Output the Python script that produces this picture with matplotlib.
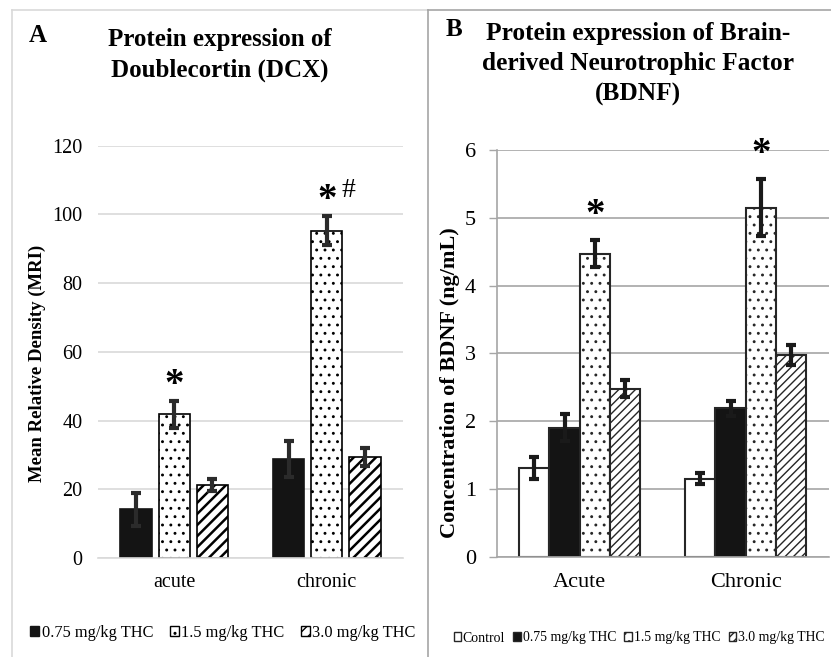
import numpy as np
import matplotlib
matplotlib.use("Agg")
import matplotlib.pyplot as plt
from matplotlib.lines import Line2D
from matplotlib.patches import Patch

plt.rcParams['font.family'] = 'Liberation Serif'

# ---- panel A data (DCX) ----
groups_a = ["acute", "chronic"]
series_a = ["0.75 mg/kg THC", "1.5 mg/kg THC", "3.0 mg/kg THC"]
dcx_mean = [[14.2, 28.8],    # 0.75
            [41.8, 95.3],    # 1.5
            [21.2, 29.3]]    # 3.0
dcx_err = [[4.8, 5.2],
           [4.0, 4.3],
           [1.8, 2.6]]
dcx_marks = [["", ""], ["*", "*"], ["", ""]]

# ---- panel B data (BDNF) ----
groups_b = ["Acute", "Chronic"]
series_b = ["Control", "0.75 mg/kg THC", "1.5 mg/kg THC", "3.0 mg/kg THC"]
bdnf_mean = [[1.31, 1.15],
             [1.90, 2.19],
             [4.47, 5.15],
             [2.48, 2.98]]
bdnf_err = [[0.16, 0.08],
            [0.20, 0.11],
            [0.20, 0.42],
            [0.13, 0.15]]
bdnf_marks = [["", ""], ["", ""], ["*", "*"], ["", ""]]

W, H = 831, 657
fig = plt.figure(figsize=(W / 100, H / 100), dpi=100)


def fx(px):
    return px / W


def fy(py):
    return 1 - py / H


def set_hatch_lw(patch, lw):
    if hasattr(patch, "set_hatch_linewidth"):
        patch.set_hatch_linewidth(lw)


# panel frames
fig.add_artist(Line2D([fx(12), fx(12)], [0, fy(10)], color="#d9d9d9", lw=1.2))
fig.add_artist(Line2D([fx(12), fx(428)], [fy(10), fy(10)], color="#d9d9d9", lw=1.2))
fig.add_artist(Line2D([fx(428), fx(428)], [0, fy(10)], color="#a6a6a6", lw=1.2))
fig.add_artist(Line2D([fx(428), 1], [fy(10), fy(10)], color="#a6a6a6", lw=1.2))

# ================= panel A =================
axA = fig.add_axes([fx(98), fy(558), fx(403) - fx(98), fy(145.7) - fy(558)])
xa = np.arange(len(groups_a))
wa = 0.205
offs_a = [-0.25, 0.0, 0.25]
styles_a = [dict(color="#141414", edgecolor="#141414", hatch=None, hlw=1.0),
            dict(color="white", edgecolor="black", hatch="..", hlw=0.9),
            dict(color="white", edgecolor="black", hatch="///", hlw=1.8)]
handles_a = []
for i, name in enumerate(series_a):
    st = styles_a[i]
    bars = axA.bar(xa + offs_a[i], dcx_mean[i], wa, color=st["color"],
                   edgecolor=st["edgecolor"], hatch=st["hatch"], linewidth=1.2,
                   zorder=2, label=name)
    for b in bars:
        set_hatch_lw(b, st["hlw"])
    axA.errorbar(xa + offs_a[i], dcx_mean[i], yerr=dcx_err[i], fmt="none",
                 ecolor="#2b2b2b", elinewidth=3, capsize=3.5, capthick=3, zorder=3)
    for j in range(len(groups_a)):
        if dcx_marks[i][j]:
            top = dcx_mean[i][j] + dcx_err[i][j]
            axA.text(xa[j] + offs_a[i], top + 4.5, dcx_marks[i][j], ha="center",
                     va="center", fontsize=28, fontweight="bold", zorder=4)
    handles_a.append(Patch(facecolor=st["color"], edgecolor=st["edgecolor"],
                           hatch=st["hatch"], linewidth=1.0))
# the '#' next to chronic 1.5 mg/kg
axA.text(xa[1] + offs_a[1] + 0.14, dcx_mean[1][1] + dcx_err[1][1] + 7.5, "#",
         ha="center", va="center", fontsize=20)

axA.set_xlim(-0.5, 1.5)
axA.set_ylim(0, 120)
axA.set_yticks(np.arange(0, 121, 20))
axA.set_xticks(xa)
axA.set_xticklabels(groups_a, fontsize=14.5)
axA.tick_params(axis="y", length=0, pad=11, labelsize=14.5)
axA.tick_params(axis="x", length=0, pad=11)
axA.grid(axis="y", color="#d9d9d9", lw=1.2, zorder=0)
axA.set_axisbelow(True)
for s in ["top", "right", "left"]:
    axA.spines[s].set_visible(False)
axA.spines["bottom"].set_color("#d9d9d9")
axA.spines["bottom"].set_linewidth(1.2)

fig.text(fx(37), fy(363), "Mean Relative Density (MRI)", rotation=90, ha="center",
         va="center", fontsize=13.5, fontweight="bold")
fig.text(fx(37.5), fy(35), "A", ha="center", va="center", fontsize=18, fontweight="bold")
fig.text(fx(220), fy(55), "Protein expression of\nDoublecortin (DCX)", ha="center",
         va="center", fontsize=18, fontweight="bold", linespacing=1.4)
fig.legend(handles_a, series_a, loc="center", bbox_to_anchor=(fx(223), fy(633)),
           ncol=3, frameon=False, fontsize=11.8, handlelength=0.55, handleheight=0.55,
           handletextpad=0.15, columnspacing=1.0, borderaxespad=0)

# ================= panel B =================
axB = fig.add_axes([fx(496.7), fy(556.7), fx(828.7) - fx(496.7), fy(150) - fy(556.7)])
xb = np.arange(len(groups_b))
wb = 0.182
offs_b = [-1.5 * wb, -0.5 * wb, 0.5 * wb, 1.5 * wb]
styles_b = [dict(color="white", edgecolor="#262626", hatch=None, hlw=1.0),
            dict(color="#141414", edgecolor="#262626", hatch=None, hlw=1.0),
            dict(color="white", edgecolor="#262626", hatch="..", hlw=0.9),
            dict(color="white", edgecolor="#262626", hatch="////", hlw=1.0)]
handles_b = []
for i, name in enumerate(series_b):
    st = styles_b[i]
    bars = axB.bar(xb + offs_b[i], bdnf_mean[i], wb, color=st["color"],
                   edgecolor=st["edgecolor"], hatch=st["hatch"], linewidth=1.5,
                   zorder=2, label=name)
    for b in bars:
        set_hatch_lw(b, st["hlw"])
    axB.errorbar(xb + offs_b[i], bdnf_mean[i], yerr=bdnf_err[i], fmt="none",
                 ecolor="#1a1a1a", elinewidth=3, capsize=3.5, capthick=3, zorder=3)
    for j in range(len(groups_b)):
        if bdnf_marks[i][j]:
            top = bdnf_mean[i][j] + bdnf_err[i][j]
            axB.text(xb[j] + offs_b[i], top + 0.37, bdnf_marks[i][j], ha="center",
                     va="center", fontsize=28, fontweight="bold", zorder=4)
    handles_b.append(Patch(facecolor=st["color"], edgecolor=st["edgecolor"],
                           hatch=st["hatch"], linewidth=1.0))

axB.set_xlim(-0.5, 1.5)
axB.set_ylim(0, 6)
axB.set_yticks(np.arange(0, 7, 1))
axB.set_xticks(xb)
axB.set_xticklabels(groups_b, fontsize=16)
axB.tick_params(axis="y", length=6, width=1, color="#a6a6a6", pad=9, labelsize=16)
axB.tick_params(axis="x", length=0, pad=12)
axB.grid(axis="y", color="#a6a6a6", lw=1.2, zorder=0)
axB.set_axisbelow(True)
for s in ["top", "right"]:
    axB.spines[s].set_visible(False)
for s in ["left", "bottom"]:
    axB.spines[s].set_color("#a6a6a6")
    axB.spines[s].set_linewidth(1.2)

fig.text(fx(450), fy(383), "Concentration of BDNF (ng/mL)", rotation=90, ha="center",
         va="center", fontsize=16, fontweight="bold")
fig.text(fx(453.5), fy(30), "B", ha="center", va="center", fontsize=18, fontweight="bold")
fig.text(fx(638), fy(64), "Protein expression of Brain-\nderived Neurotrophic Factor\n(BDNF)",
         ha="center", va="center", fontsize=18.3, fontweight="bold", linespacing=1.4)
fig.legend(handles_b, series_b, loc="center", bbox_to_anchor=(fx(639), fy(638)),
           ncol=4, frameon=False, fontsize=9.9, handlelength=0.55, handleheight=0.55,
           handletextpad=0.12, columnspacing=0.6, borderaxespad=0)

fig.savefig("out.png", dpi=100)
